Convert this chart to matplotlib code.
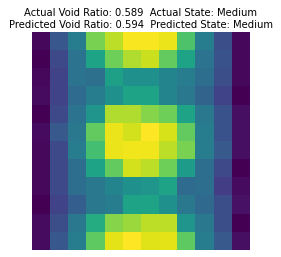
import numpy as np
import matplotlib
matplotlib.use('Agg')
import matplotlib.pyplot as plt

actual_ratio = 0.589
predicted_ratio = 0.594
actual_state = 'Medium'
predicted_state = 'Medium'

# 12x12 field values (viridis scale 0..1)
row_00 = [0.02, 0.27, 0.42, 0.80, 0.90, 0.99, 0.99, 0.97, 0.72, 0.42, 0.24, 0.02]
row_01 = [0.00, 0.22, 0.38, 0.58, 0.78, 0.88, 0.92, 0.76, 0.58, 0.38, 0.25, 0.02]
row_02 = [0.02, 0.20, 0.38, 0.37, 0.57, 0.50, 0.50, 0.45, 0.42, 0.36, 0.24, 0.02]
row_03 = [0.03, 0.20, 0.35, 0.42, 0.50, 0.58, 0.58, 0.45, 0.40, 0.32, 0.20, 0.00]
row_04 = [0.00, 0.22, 0.38, 0.52, 0.88, 0.88, 0.82, 0.78, 0.58, 0.40, 0.25, 0.04]
row_05 = [0.03, 0.28, 0.40, 0.76, 0.97, 0.93, 1.00, 0.94, 0.76, 0.42, 0.25, 0.04]
row_06 = [0.02, 0.22, 0.42, 0.70, 0.97, 0.98, 0.98, 0.90, 0.80, 0.42, 0.28, 0.04]
row_07 = [0.02, 0.22, 0.36, 0.58, 0.76, 0.93, 0.90, 0.78, 0.55, 0.36, 0.22, 0.00]
row_08 = [0.02, 0.22, 0.36, 0.40, 0.45, 0.50, 0.52, 0.58, 0.35, 0.36, 0.18, 0.03]
row_09 = [0.00, 0.20, 0.30, 0.40, 0.42, 0.58, 0.58, 0.50, 0.40, 0.34, 0.24, 0.05]
row_10 = [0.03, 0.24, 0.40, 0.62, 0.82, 0.85, 0.90, 0.90, 0.52, 0.40, 0.24, 0.00]
row_11 = [0.03, 0.27, 0.42, 0.75, 0.96, 1.00, 0.95, 0.96, 0.75, 0.42, 0.28, 0.04]

field = np.array([row_00, row_01, row_02, row_03, row_04, row_05,
                  row_06, row_07, row_08, row_09, row_10, row_11])

fig = plt.figure(figsize=(281 / 72, 257 / 72), dpi=72)
ax = fig.add_axes([32 / 281, 7 / 257, 218 / 281, 218 / 257])
ax.imshow(field, cmap='viridis', aspect='auto')
ax.set_title(f'Actual Void Ratio: {actual_ratio:.3f}  Actual State: {actual_state}\n'
             f'Predicted Void Ratio: {predicted_ratio:.3f}  Predicted State: {predicted_state}',
             fontsize=10, pad=4)
ax.axis('off')

fig.savefig('out.png', dpi=72)
